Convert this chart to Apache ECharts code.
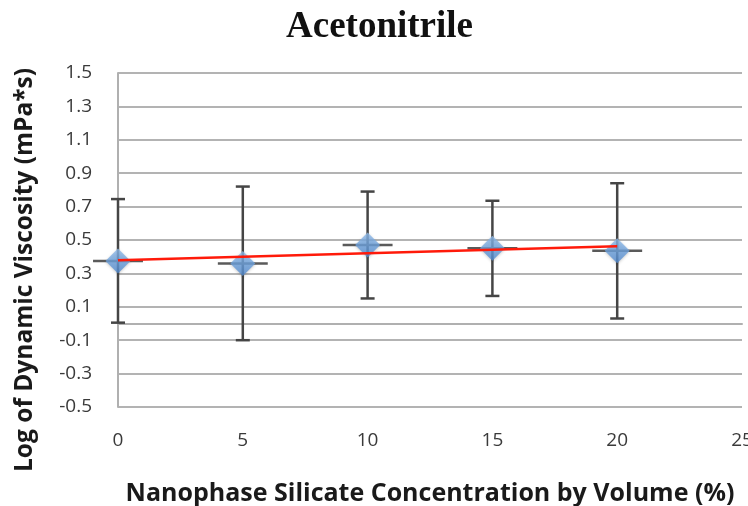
<!DOCTYPE html>
<html>
<head>
<meta charset="utf-8">
<script src="https://cdn.jsdelivr.net/npm/echarts@6/dist/echarts.min.js"></script>
<style>
  html, body { margin: 0; padding: 0; background: #fff; overflow: hidden; }
  #chart { width: 748px; height: 506px; }
</style>
</head>
<body>
<div id="chart"></div>
<script>
// Silicate concentration (% by volume) and measured log viscosity
var concentrations = [0, 5, 10, 15, 20];
var logViscosity = [0.375, 0.36, 0.47, 0.45, 0.435];
// Error bar half-widths
var yErrors = [0.37, 0.46, 0.32, 0.285, 0.405];
var xErrors = [1, 1, 1, 1, 1];
// Linear trend line end points
var trendX = [0, 20];
var trendY = [0.378, 0.462];

var yTitle = 'Log of Dynamic Viscosity (mPa*s)';
var xTitle = 'Nanophase Silicate Concentration by Volume (%)';

var pointData = concentrations.map(function (x, i) { return [x, logViscosity[i]]; });
var errorData = concentrations.map(function (x, i) {
  return [x, logViscosity[i], yErrors[i], xErrors[i]];
});
var trendData = trendX.map(function (x, i) { return [x, trendY[i]]; });

var chart = echarts.init(document.getElementById('chart'), null, { renderer: 'canvas' });

var tickFont = { fontFamily: 'Open Sans', fontSize: 19, color: '#3a3a3a' };

chart.setOption({
  animation: false,
  backgroundColor: '#ffffff',
  title: {
    text: 'Acetonitrile',
    left: 281,
    top: 4,
    textStyle: { fontFamily: 'Liberation Serif', fontWeight: 'bold', fontSize: 37, color: '#111' }
  },
  // vertical axis title, set a little below the plot's middle
  graphic: [{
    type: 'text',
    x: 25,
    y: 270,
    rotation: Math.PI / 2,
    style: {
      text: yTitle,
      fontFamily: 'Open Sans',
      fontWeight: 'bold',
      fontSize: 24.5,
      fill: '#1a1a1a',
      align: 'center',
      verticalAlign: 'middle'
    }
  }],
  grid: {
    left: 118, right: 6, top: 73, bottom: 99,
    containLabel: false,
    outerBoundsMode: 'none'
  },
  xAxis: {
    type: 'value',
    min: 0,
    max: 25,
    interval: 5,
    name: xTitle,
    nameLocation: 'middle',
    nameGap: 74,
    nameTextStyle: { fontFamily: 'Open Sans', fontWeight: 'bold', fontSize: 25, color: '#1a1a1a' },
    axisLine: { show: true, lineStyle: { color: '#b0b0b0', width: 2 } },
    axisTick: { show: false },
    splitLine: { show: false },
    axisLabel: Object.assign({ margin: 24, hideOverlap: false }, tickFont)
  },
  yAxis: {
    type: 'value',
    min: -0.5,
    max: 1.5,
    interval: 0.2,
    axisLine: { show: true, lineStyle: { color: '#b0b0b0', width: 2 } },
    axisTick: { show: false },
    splitLine: { show: true, lineStyle: { color: '#b3b3b3', width: 2 } },
    axisLabel: Object.assign({
      margin: 26,
      formatter: function (v) { return (Math.round(v * 10) / 10).toFixed(1); }
    }, tickFont)
  },
  series: [
    {
      // error bars: vertical with caps, horizontal without
      type: 'custom',
      z: 2,
      data: errorData,
      renderItem: function (params, api) {
        var x = api.value(0), y = api.value(1), ey = api.value(2), ex = api.value(3);
        var top = api.coord([x, y + ey]);
        var bot = api.coord([x, y - ey]);
        var left = api.coord([x - ex, y]);
        var right = api.coord([x + ex, y]);
        var cap = 7;
        var style = { stroke: '#454545', lineWidth: 2.5 };
        var hStyle = { stroke: '#5a5a5a', lineWidth: 2.5 };
        return {
          type: 'group',
          children: [
            { type: 'line', shape: { x1: top[0], y1: top[1], x2: bot[0], y2: bot[1] }, style: style },
            { type: 'line', shape: { x1: top[0] - cap, y1: top[1], x2: top[0] + cap, y2: top[1] }, style: style },
            { type: 'line', shape: { x1: bot[0] - cap, y1: bot[1], x2: bot[0] + cap, y2: bot[1] }, style: style },
            { type: 'line', shape: { x1: left[0], y1: left[1], x2: right[0], y2: right[1] }, style: hStyle }
          ]
        };
      }
    },
    {
      type: 'scatter',
      z: 3,
      data: pointData,
      symbol: 'diamond',
      symbolSize: [25, 25],
      itemStyle: {
        color: new echarts.graphic.LinearGradient(0, 0, 0, 1, [
          { offset: 0, color: '#93bdeb' },
          { offset: 0.5, color: '#6fa3de' },
          { offset: 1, color: '#528ad0' }
        ]),
        shadowColor: 'rgba(0,0,0,0.25)',
        shadowBlur: 3,
        shadowOffsetY: 1
      }
    },
    {
      type: 'line',
      z: 4,
      data: trendData,
      symbol: 'none',
      lineStyle: { color: '#ff1a0a', width: 2.5 }
    }
  ]
});
</script>
</body>
</html>
